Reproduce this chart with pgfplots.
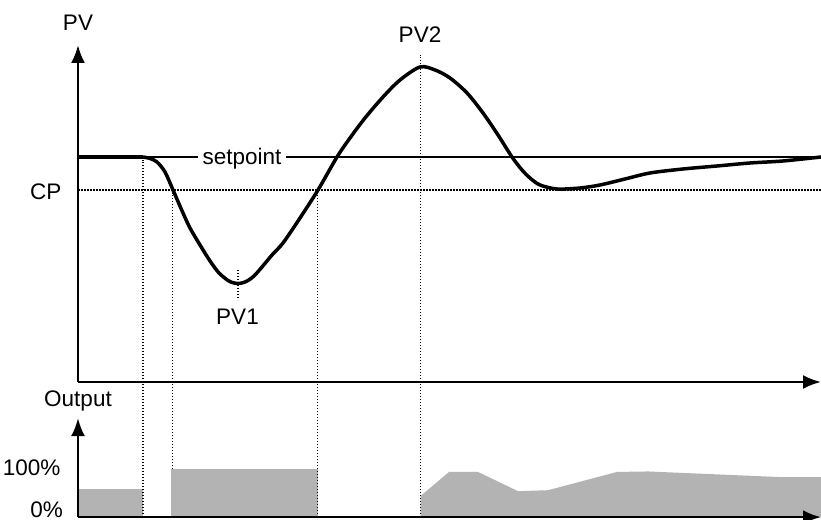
\documentclass[border=0pt]{standalone}
\usepackage{pgfplots}
\pgfplotsset{compat=1.18}
\usepackage{fontspec}
\setmainfont{Liberation Sans}
\usetikzlibrary{arrows.meta}
\definecolor{barg}{RGB}{179,179,179}
\begin{document}
\fontsize{22.5bp}{27bp}\selectfont
\begin{tikzpicture}[x=1bp,y=1bp]
\path[use as bounding box] (0,0) rectangle (821,520);
\pgfplotsset{
  ctrl/.style={
    scale only axis, width=743bp, xmin=0, xmax=743,
    axis x line=bottom, axis y line=left,
    axis line style={line width=2.5bp, -{Latex[length=18bp,width=14bp]}},
    xtick=\empty, ytick=\empty, clip=false, axis on top,
  },
  dots/.style={line width=1.5bp, dash pattern=on 1.5bp off 1.5bp},
}
% ---------- PV (top) ----------
\begin{axis}[ctrl, at={(78,138)}, anchor=south west, height=337bp, ymin=0, ymax=337]
  % CP dotted line
  \addplot[dots] coordinates {(0,192) (743,192)};
  % PV1 marker
  \addplot[dots] coordinates {(160,112) (160,82)};
  % setpoint
  \addplot[line width=1.5bp] coordinates {(0,225) (743,225)};
  \node[fill=white, inner xsep=5bp, inner ysep=2bp, anchor=base] at (axis cs:164,217) {setpoint};
  % process value
  \addplot[line width=3.5bp] coordinates {(0,225) (65,225)};
  \addplot[line width=3.5bp, smooth, line join=round] coordinates {
    (65,225) (72,223.5) (79,220) (87,210) (95,192) (105,169) (112,154)
    (122,137) (132,121) (141,109) (150,101.5) (155,99.3) (160,98.5) (165,99.3)
    (170,101.5) (176,106) (184,115) (194,127) (205,139) (222,164) (240,192)
    (259,225) (272,244) (287,264) (305,285) (322,302) (342,315) (357,312)
    (372,304) (389,289) (405,269) (420,247) (434,225) (444,212) (452,204)
    (462,197) (479,193) (502,194) (522,197) (547,203) (572,209) (605,213)
    (639,216) (672,219) (705,221) (743,225)};
  \node[anchor=base] at (axis cs:0,351) {PV};
  \node[anchor=base] at (axis cs:342,339) {PV2};
  \node[anchor=base] at (axis cs:159.5,57) {PV1};
  \node[anchor=east] at (axis cs:-9,190) {CP};
\end{axis}
% ---------- Output (bottom) ----------
\begin{axis}[ctrl, at={(78,6)}, anchor=south west, height=99bp, ymin=0, ymax=206]
  \addplot[fill=barg, draw=none] coordinates {(0,0) (0,58) (65,58) (65,0)} -- cycle;
  \addplot[fill=barg, draw=none] coordinates {(93,0) (93,100) (240.3,100) (240.3,0)} -- cycle;
  \addplot[fill=barg, draw=none] coordinates {
    (342.7,0) (342.7,44) (371,94) (400,94) (440,54) (470,56) (539,94)
    (570,95) (655,87.5) (705,83) (743,83) (743,0)} -- cycle;
  % vertical dotted guides
  \addplot[dots] coordinates {(65,0) (65,744)};
  \addplot[dots] coordinates {(94.5,100) (94.5,675)};
  \addplot[dots] coordinates {(239.3,0) (239.3,675)};
  \addplot[dots] coordinates {(342.7,0) (342.7,962.5)};
  \node[anchor=base] at (axis cs:0,231) {Output};
  \node[anchor=east] at (axis cs:-10,103) {100\%};
  \node[anchor=base east, inner sep=0pt] at (axis cs:-15,-1) {0\%};
\end{axis}
\end{tikzpicture}
\end{document}
